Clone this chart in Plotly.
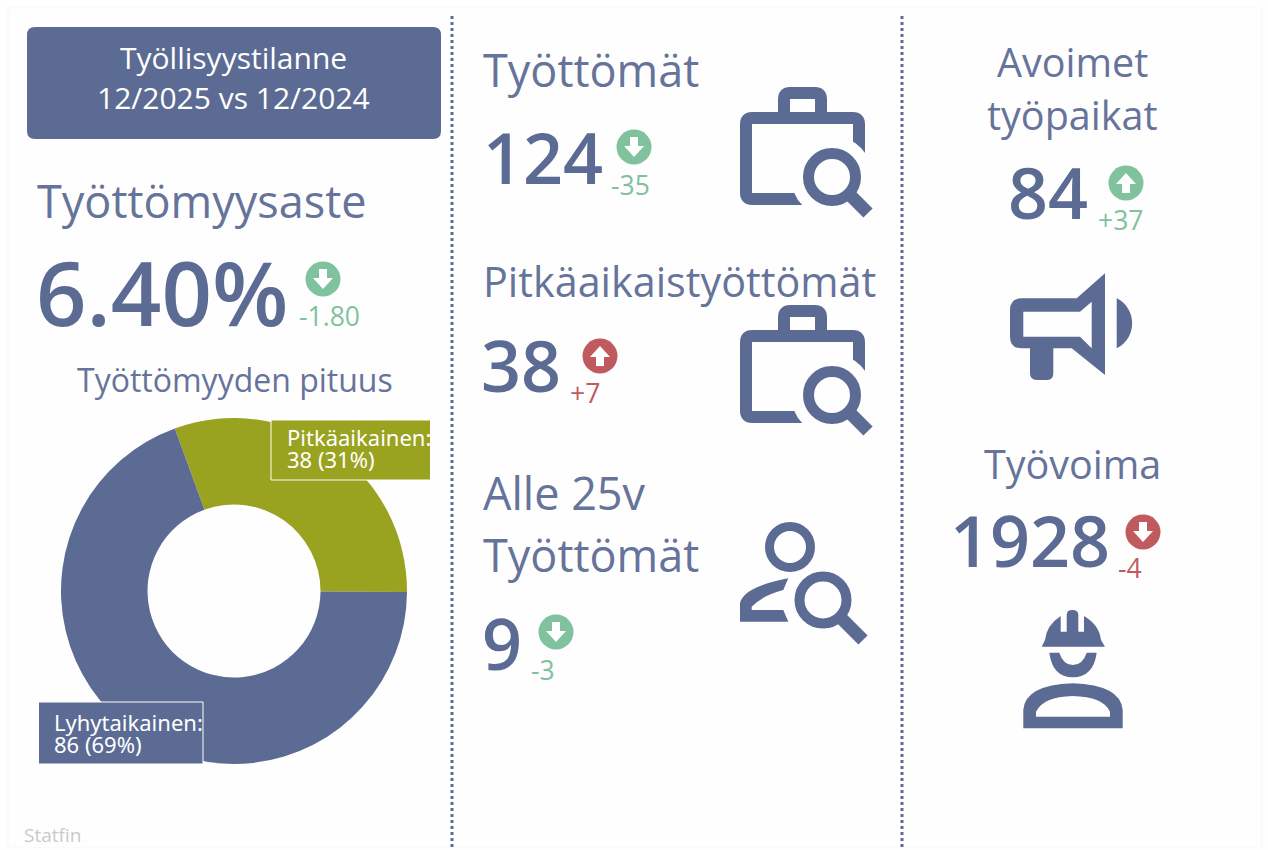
import plotly.graph_objects as go

# ---------- data ----------
duration_labels = ["Pitkäaikainen", "Lyhytaikainen"]
duration_values = [38, 86]
duration_shares = [31, 69]

rate_value = "6.40%"
rate_delta = "-1.80"
unemployed = 124
unemployed_delta = "-35"
longterm = 38
longterm_delta = "+7"
youth = 9
youth_delta = "-3"
vacancies = 84
vacancies_delta = "+37"
labour = 1928
labour_delta = "-4"

BLUE = "#5c6b93"
TITLE = "#66739a"
OLIVE = "#9aa320"
GREEN = "#80c29d"
RED = "#bf5b5e"
FONT = "Open Sans"

shapes, annos = [], []
DS = 26.5


def text(x, y, s, size, color=TITLE, anchor="left", weight=400, family=FONT, **kw):
    annos.append(dict(x=x, y=y, xref="x", yref="y", text=s, showarrow=False, xanchor=anchor,
                      yanchor="middle", align=anchor if anchor != "center" else "center",
                      borderpad=0, font=dict(family=family, size=size, color=color, weight=weight), **kw))


def fill(path, color=BLUE):
    shapes.append(dict(type="path", path=path, xref="x", yref="y", fillcolor=color,
                       line=dict(width=0), layer="above"))


def stroke(path, w, color=BLUE, cap=None):
    shapes.append(dict(type="path", path=path, xref="x", yref="y", fillcolor="rgba(0,0,0,0)",
                       line=dict(width=w, color=color), layer="above"))


def circle(cx, cy, r, color=BLUE, w=0, linecolor=None):
    shapes.append(dict(type="circle", x0=cx - r, x1=cx + r, y0=cy - r, y1=cy + r, xref="x", yref="y",
                       fillcolor=color, line=dict(width=w, color=linecolor or color), layer="above"))


def zpath(cmds, ox, oy):
    """Build an SVG path from crop coordinates (3x) and an origin."""
    out = []
    for c in cmds:
        if isinstance(c, str):
            out.append(c)
        else:
            out.append(f"{ox + c[0] / 3:.1f},{oy + c[1] / 3:.1f}")
    return " ".join(out)


def delta_icon(cx, cy, up, color):
    circle(cx, cy, 17.5, color)
    s = -1 if up else 1
    pts = [(-4, -10), (4, -10), (4, -1), (10, -1), (0, 10), (-10, -1), (-4, -1)]
    p = "M " + " L ".join(f"{cx + a:.1f},{cy + s * b:.1f}" for a, b in pts) + " Z"
    fill(p, "#ffffff")


def magnifier(cx, cy, r, w, hx0, hy0, hx1, hy1, hw, cut=None):
    if cut:
        circle(cx, cy, cut, "#fefefe")
    circle(cx, cy, r, "rgba(0,0,0,0)", w, BLUE)
    stroke(f"M {hx0},{hy0} L {hx1},{hy1}", hw)


def case_icon(dy):
    stroke(f"M 859,{165+dy} L 859,{124+dy} Q 859,{118+dy} 853,{118+dy} L 752,{118+dy} "
           f"Q 746,{118+dy} 746,{124+dy} L 746,{193+dy} Q 746,{199+dy} 752,{199+dy} L 815,{199+dy}", 12)
    stroke(f"M 784,{112+dy} L 784,{99+dy} Q 784,{93+dy} 790,{93+dy} L 815,{93+dy} "
           f"Q 821,{93+dy} 821,{99+dy} L 821,{112+dy}", 12)
    magnifier(832, 177 + dy, 23.5, 11, 849, 194 + dy, 868, 213 + dy, 13, cut=41)


# ---------- card, dividers, header ----------
shapes.append(dict(type="rect", x0=8, x1=1262, y0=8, y1=848, xref="x", yref="y",
                   fillcolor="#fefefe", line=dict(width=1, color="#f7f7f7"), layer="below"))
for xd in (452, 902):
    shapes.append(dict(type="line", x0=xd, x1=xd, y0=16, y1=848, xref="x", yref="y",
                       line=dict(width=3, color=BLUE, dash="3px,3px"), layer="above"))
r = 8
shapes.append(dict(type="path", xref="x", yref="y", fillcolor=BLUE, line=dict(width=0), layer="below",
                   path=f"M {27+r},27 L {441-r},27 Q 441,27 441,{27+r} L 441,{139-r} Q 441,139 {441-r},139 "
                        f"L {27+r},139 Q 27,139 27,{139-r} L 27,{27+r} Q 27,27 {27+r},27 Z"))
text(233.5, 57, "Työllisyystilanne", 30, "#ffffff", "center")
text(233.5, 97, "12/2025 vs 12/2024", 30, "#ffffff", "center")

# ---------- column 1 ----------
text(35.5, 200, "Työttömyysaste", 45)
text(35, 291, rate_value, 88.5, BLUE, weight=600)
delta_icon(323, 279, False, GREEN)
text(329, 316, rate_delta, DS, GREEN, "center", weight=500)
text(235, 379, "Työttömyyden pituus", 32, TITLE, "center")
text(23, 835, "Statfin", 19, "#c9c9c9")

# label boxes over the donut
shapes.append(dict(type="rect", x0=271, x1=430, y0=420, y1=480, xref="x", yref="y",
                   fillcolor=OLIVE, line=dict(width=0), layer="above"))
shapes.append(dict(type="path", path="M 430,420 L 271,420 L 271,480 L 430,480", xref="x", yref="y",
                   fillcolor="rgba(0,0,0,0)", line=dict(width=1, color="#ffffff"), layer="above"))
shapes.append(dict(type="rect", x0=39, x1=203, y0=702, y1=764, xref="x", yref="y",
                   fillcolor=BLUE, line=dict(width=0), layer="above"))
shapes.append(dict(type="path", path="M 39,702 L 203,702 L 203,764 L 39,764", xref="x", yref="y",
                   fillcolor="rgba(0,0,0,0)", line=dict(width=1, color="#ffffff"), layer="above"))
LF = "Noto Sans"
LS = 22
text(286, 437, duration_labels[0] + ":", LS, "#ffffff", family=LF, width=144, height=30)
text(286, 459, f"{duration_values[0]} ({duration_shares[0]}%)", LS, "#ffffff", family=LF, width=144, height=30)
text(53, 722, duration_labels[1] + ":", LS, "#ffffff", family=LF, width=150, height=30)
text(53, 744, f"{duration_values[1]} ({duration_shares[1]}%)", LS, "#ffffff", family=LF, width=150, height=30)

# ---------- column 2 ----------
NS = 70
text(482, 69, "Työttömät", 45)
text(482, 157, str(unemployed), NS, BLUE, weight=600)
delta_icon(634, 147, False, GREEN)
text(630, 185, unemployed_delta, DS, GREEN, "center", weight=500)
case_icon(0)

text(481.5, 281, "Pitkäaikaistyöttömät", 41.3)
text(480, 365, str(longterm), NS, BLUE, weight=600)
delta_icon(600, 356, True, RED)
text(585, 393, longterm_delta, DS, RED, "center", weight=500)
case_icon(218)

text(482, 492, "Alle 25v", 45)
text(482, 554, "Työttömät", 45)
text(481, 643, str(youth), NS, BLUE, weight=600)
delta_icon(556, 632, False, GREEN)
text(543, 670, youth_delta, DS, GREEN, "center", weight=500)
circle(790, 547, 20.5, "rgba(0,0,0,0)", 9, BLUE)
fill(zpath(["M", (205, 235), "Q", (70, 260), (60, 310), "L", (60, 365), "L", (205, 365), "L", (190, 330),
            "L", (95, 330), "L", (95, 320), "Q", (130, 285), (190, 270), "Z"], 720, 500))
magnifier(823, 600, 23.5, 10, 840, 617, 863, 640, 13)

# ---------- column 3 ----------
text(1072, 62, "Avoimet", 39.5, TITLE, "center")
text(1072, 115, "työpaikat", 39.5, TITLE, "center")
text(1007, 192, str(vacancies), NS, BLUE, weight=600)
delta_icon(1126, 183, True, GREEN)
text(1120, 220, vacancies_delta, DS, GREEN, "center", weight=500)
fill(zpath(["M", (345, 40), "L", (260, 115), "L", (95, 115), "Q", (60, 115), (60, 150), "L", (60, 230),
            "Q", (60, 265), (95, 265), "L", (120, 265), "L", (120, 340), "Q", (120, 360), (140, 360),
            "L", (172, 360), "Q", (190, 360), (190, 340), "L", (190, 265), "L", (245, 265), "L", (345, 345), "Z",
            "M", (100, 155), "L", (100, 230), "L", (270, 230), "L", (305, 265), "L", (305, 125), "L", (270, 155), "Z",
            "M", (380, 115), "C", (442, 145), (442, 235), (380, 265), "Z"], 990, 260))

text(1072, 464, "Työvoima", 39.5, TITLE, "center")
text(949, 540, str(labour), NS, BLUE, weight=600)
delta_icon(1143, 532, False, RED)
text(1130, 568, labour_delta, DS, RED, "center", weight=500)
fill(zpath(["M", (125, 140), "L", (135, 120), "Q", (140, 75), (182, 48), "L", (182, 95), "L", (200, 95), "L", (200, 45),
            "Q", (200, 30), (217, 30), "Q", (235, 30), (235, 45), "L", (235, 95), "L", (252, 95), "L", (252, 48),
            "Q", (298, 75), (303, 120), "L", (315, 140), "Z",
            "M", (148, 158), "L", (178, 158), "Q", (190, 195), (218, 195), "Q", (248, 195), (260, 158), "L", (290, 158),
            "Q", (280, 232), (218, 232), "Q", (158, 232), (148, 158), "Z",
            "M", (70, 385), "L", (70, 330), "Q", (75, 255), (218, 250), "Q", (362, 255), (368, 330), "L", (368, 385), "Z",
            "M", (108, 350), "L", (330, 350), "L", (330, 335), "Q", (310, 290), (218, 288), "Q", (130, 290), (108, 335), "Z"],
           1000, 600))

# ---------- figure ----------
W, H = 1268, 850
fig = go.Figure()
fig.add_trace(go.Scatter(x=[None], y=[None], mode="markers", showlegend=False, hoverinfo="skip"))
fig.add_trace(go.Pie(labels=duration_labels, values=duration_values, hole=0.5, sort=False,
                     direction="clockwise", rotation=-20, textinfo="none", hoverinfo="label+value+percent",
                     marker=dict(colors=[OLIVE, BLUE], line=dict(width=0)),
                     domain=dict(x=[61 / W, 407 / W], y=[1 - 764 / H, 1 - 418 / H]), showlegend=False))
fig.update_layout(width=W, height=H, margin=dict(l=0, r=0, t=0, b=0), paper_bgcolor="#fefefe",
                  plot_bgcolor="rgba(0,0,0,0)", showlegend=False, shapes=shapes, annotations=annos,
                  xaxis=dict(range=[0, W], visible=False, fixedrange=True),
                  yaxis=dict(range=[H, 0], visible=False, fixedrange=True))
fig.write_html("out.html", config=dict(displayModeBar=False),
               post_script="document.body.style.margin='0';document.body.style.overflow='hidden';")
